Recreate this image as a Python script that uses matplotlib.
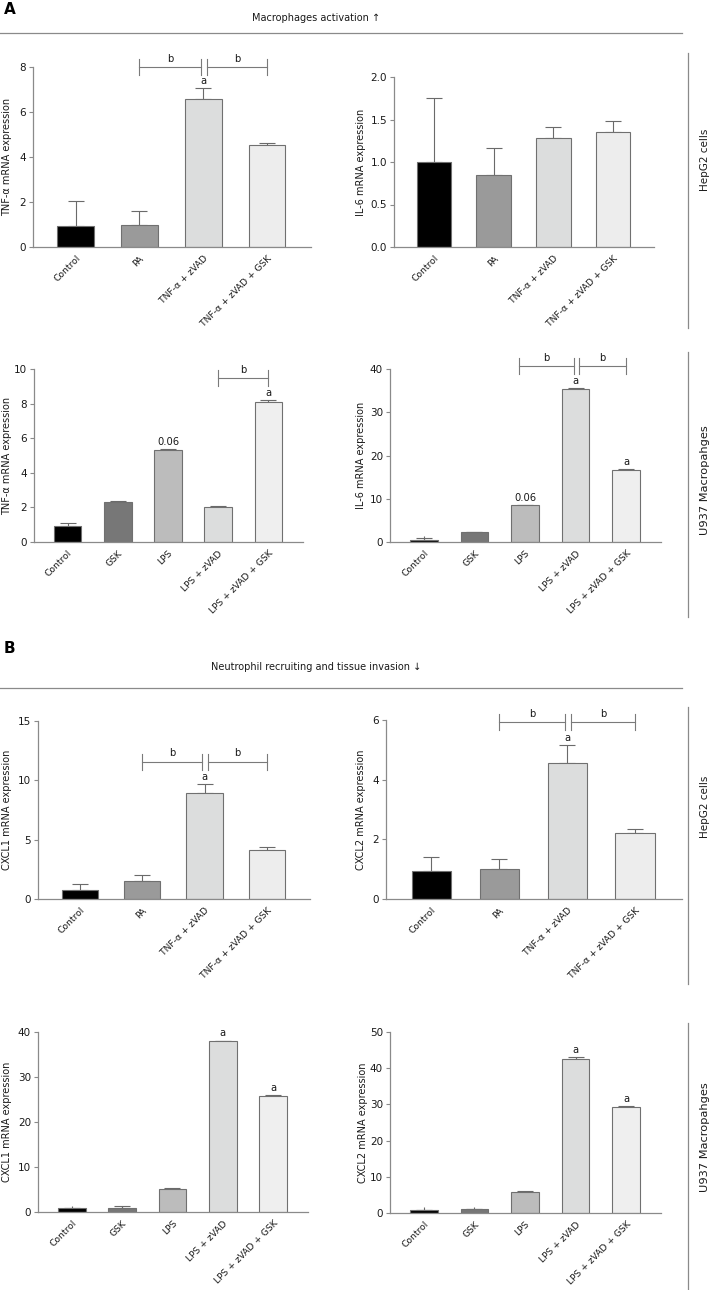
import matplotlib
matplotlib.use("Agg")
import matplotlib.pyplot as plt
import numpy as np

# =====================================
# Data
# =====================================
cats_hep = ["Control", "PA", "TNF-α + zVAD", "TNF-α + zVAD + GSK"]
cats_u937 = ["Control", "GSK", "LPS", "LPS + zVAD", "LPS + zVAD + GSK"]

colors_hep = ["#000000", "#9a9a9a", "#dcdddd", "#ededed"]
colors_u937 = ["#000000", "#777777", "#bcbcbc", "#dcdddd", "#efefef"]

tnf_hep = [0.94, 0.97, 6.57, 4.54]
tnf_hep_err = [1.09, 0.63, 0.49, 0.09]

il6_hep = [1.00, 0.85, 1.28, 1.35]
il6_hep_err = [0.75, 0.31, 0.13, 0.13]

tnf_u937 = [0.93, 2.30, 5.33, 2.00, 8.10]
tnf_u937_err = [0.17, 0.05, 0.04, 0.10, 0.08]

il6_u937 = [0.55, 2.20, 8.50, 35.3, 16.6]
il6_u937_err = [0.38, 0.15, 0.10, 0.20, 0.20]

cxcl1_hep = [0.79, 1.52, 8.90, 4.15]
cxcl1_hep_err = [0.44, 0.53, 0.76, 0.25]

cxcl2_hep = [0.94, 0.99, 4.55, 2.20]
cxcl2_hep_err = [0.47, 0.36, 0.60, 0.13]

cxcl1_u937 = [0.80, 0.90, 5.10, 37.9, 25.7]
cxcl1_u937_err = [0.20, 0.40, 0.30, 0.20, 0.20]

cxcl2_u937 = [0.75, 1.00, 5.90, 42.6, 29.3]
cxcl2_u937_err = [0.15, 0.20, 0.20, 0.40, 0.20]

W, H = 711, 1290
plt.rcParams["font.family"] = ["DejaVu Sans"]
fig = plt.figure(figsize=(W / 100, H / 100), dpi=100)

AX_COL = "#8a8a8a"
TXT = "#1a1a1a"


def px_axes(left, right, top, bottom):
    return fig.add_axes([left / W, 1 - bottom / H, (right - left) / W, (bottom - top) / H])


def bar_panel(pos, lab_x, cats, vals, errs, colors, ymax, step, ylabel, fmt="%d"):
    ax = px_axes(*pos)
    n = len(cats)
    x = np.arange(n)
    width = 0.58 if n == 4 else 0.55
    ax.bar(x, vals, width=width, color=colors, edgecolor="#707070", linewidth=0.8, zorder=2)
    ax.errorbar(x, vals, yerr=[np.zeros(n), errs], fmt="none", ecolor="#6a6a6a",
                elinewidth=0.8, capsize=6, capthick=0.8, zorder=1)
    ax.set_xlim(-0.67, n - 1 + 0.69)
    ax.set_ylim(0, ymax)
    ticks = np.arange(0, ymax + step / 2, step)
    ax.set_yticks(ticks)
    ax.set_yticklabels([fmt % t for t in ticks])
    ax.set_xticks(x)
    ax.set_xticklabels(cats, rotation=45, ha="right", rotation_mode="anchor")
    for s in ["top", "right"]:
        ax.spines[s].set_visible(False)
    for s in ["left", "bottom"]:
        ax.spines[s].set_color(AX_COL)
        ax.spines[s].set_linewidth(0.9)
    ax.tick_params(axis="y", direction="out", length=3, width=0.8, color=AX_COL,
                   labelsize=7.5, labelcolor=TXT, pad=2)
    ax.tick_params(axis="x", direction="in", length=4, width=0.8, color="#6a6a6a",
                   labelsize=6.6, labelcolor=TXT, pad=5)
    ax.set_ylabel(ylabel, fontsize=7, color=TXT)
    # place the y label so that its centre sits at lab_x pixels
    left, right = pos[0], pos[1]
    ax.yaxis.set_label_coords((lab_x + 4.5 - left) / (right - left), 0.5)
    ax.patch.set_alpha(0)
    return ax


def bracket(ax, x0, x1, level, h_px):
    ymax = ax.get_ylim()[1]
    dy = ymax * 8 / h_px
    ax.plot([x0, x1], [level, level], color="#7a7a7a", lw=0.8, clip_on=False)
    for xx in (x0, x1):
        ax.plot([xx, xx], [level - dy, level + dy], color="#7a7a7a", lw=0.8, clip_on=False)
    ax.annotate("b", ((x0 + x1) / 2, level), xytext=(0, 2.5), textcoords="offset points",
                ha="center", va="bottom", fontsize=7.2, color=TXT, annotation_clip=False)


def mark(ax, i, vals, errs, s="a"):
    ax.annotate(s, (i, vals[i] + errs[i]), xytext=(0, 1.5), textcoords="offset points",
                ha="center", va="bottom", fontsize=7.2, color=TXT, annotation_clip=False)


# =====================================
# Panel A
# =====================================
ax1 = bar_panel((33, 311, 67, 247), 8, cats_hep, tnf_hep, tnf_hep_err, colors_hep, 8, 2,
                "TNF-α mRNA expression")
bracket(ax1, 1, 1.96, 8.0, 180)
bracket(ax1, 2.06, 3, 8.0, 180)
mark(ax1, 2, tnf_hep, tnf_hep_err)

ax2 = bar_panel((394, 654, 77, 247), 362, cats_hep, il6_hep, il6_hep_err, colors_hep, 2.0, 0.5,
                "IL-6 mRNA expression", fmt="%.1f")

ax3 = bar_panel((34, 303, 369, 542), 8, cats_u937, tnf_u937, tnf_u937_err, colors_u937, 10, 2,
                "TNF-α mRNA expression")
bracket(ax3, 3, 4, 9.46, 173)
mark(ax3, 4, tnf_u937, tnf_u937_err)
mark(ax3, 2, tnf_u937, tnf_u937_err, "0.06")

ax4 = bar_panel((390, 661, 369, 542), 362, cats_u937, il6_u937, il6_u937_err, colors_u937, 40, 10,
                "IL-6 mRNA expression")
bracket(ax4, 1.88, 2.96, 40.6, 173)
bracket(ax4, 3.06, 4, 40.6, 173)
mark(ax4, 3, il6_u937, il6_u937_err)
mark(ax4, 4, il6_u937, il6_u937_err)
mark(ax4, 2, il6_u937, il6_u937_err, "0.06")

# =====================================
# Panel B
# =====================================
ax5 = bar_panel((38, 310, 721, 899), 8, cats_hep, cxcl1_hep, cxcl1_hep_err, colors_hep, 15, 5,
                "CXCL1 mRNA expression")
bracket(ax5, 1, 1.96, 11.55, 178)
bracket(ax5, 2.06, 3, 11.55, 178)
mark(ax5, 2, cxcl1_hep, cxcl1_hep_err)

ax6 = bar_panel((386, 682, 720, 899), 362, cats_hep, cxcl2_hep, cxcl2_hep_err, colors_hep, 6, 2,
                "CXCL2 mRNA expression")
bracket(ax6, 1, 1.96, 5.92, 179)
bracket(ax6, 2.06, 3, 5.92, 179)
mark(ax6, 2, cxcl2_hep, cxcl2_hep_err)

ax7 = bar_panel((38, 308, 1032, 1212), 8, cats_u937, cxcl1_u937, cxcl1_u937_err, colors_u937, 40, 10,
                "CXCL1 mRNA expression")
mark(ax7, 3, cxcl1_u937, cxcl1_u937_err)
mark(ax7, 4, cxcl1_u937, cxcl1_u937_err)

ax8 = bar_panel((390, 661, 1032, 1213), 364, cats_u937, cxcl2_u937, cxcl2_u937_err, colors_u937, 50, 10,
                "CXCL2 mRNA expression")
mark(ax8, 3, cxcl2_u937, cxcl2_u937_err)
mark(ax8, 4, cxcl2_u937, cxcl2_u937_err)

# =====================================
# Headers and side labels
# =====================================
def fx(px):
    return px / W


def fy(py):
    return 1 - py / H


fig.text(fx(4), fy(9), "A", fontsize=11, fontweight="bold", ha="left", va="center", color="#000")
fig.text(fx(4), fy(648), "B", fontsize=11, fontweight="bold", ha="left", va="center", color="#000")
fig.text(fx(316), fy(18), "Macrophages activation ↑", fontsize=7, ha="center", va="center", color=TXT)
fig.text(fx(316), fy(667), "Neutrophil recruiting and tissue invasion ↓", fontsize=7,
         ha="center", va="center", color=TXT)

for yy in (33, 688):
    fig.add_artist(plt.Line2D([fx(0), fx(682)], [fy(yy), fy(yy)], color="#8a8a8a", lw=0.9))

for (y0, y1) in [(53, 328), (352, 617), (707, 984), (1023, 1290)]:
    fig.add_artist(plt.Line2D([fx(688), fx(688)], [fy(y0), fy(y1)], color="#8a8a8a", lw=0.9))

fig.text(fx(705), fy(160), "HepG2 cells", rotation=90, fontsize=7.5, ha="center", va="center", color=TXT)
fig.text(fx(705), fy(480), "U937 Macropahges", rotation=90, fontsize=8.2, ha="center", va="center", color=TXT)
fig.text(fx(705), fy(807), "HepG2 cells", rotation=90, fontsize=7.5, ha="center", va="center", color=TXT)
fig.text(fx(705), fy(1137), "U937 Macropahges", rotation=90, fontsize=8.2, ha="center", va="center", color=TXT)

fig.savefig("out.png", dpi=100)
